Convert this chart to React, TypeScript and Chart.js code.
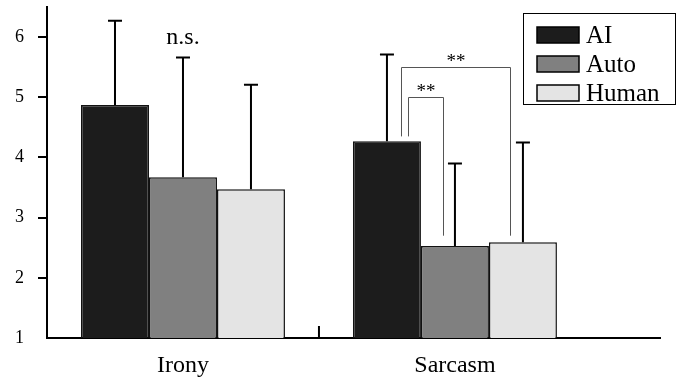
import React, { useEffect, useRef } from 'react';
import { Chart, registerables } from 'chart.js';

Chart.register(...registerables);

const categories = ['Irony', 'Sarcasm'];
const seriesNames = ['AI', 'Auto', 'Human'];
const aiMeans = [4.87, 4.27];
const autoMeans = [3.67, 2.53];
const humanMeans = [3.47, 2.59];
const aiSD = [1.4, 1.44];
const autoSD = [1.99, 1.37];
const humanSD = [1.74, 1.66];
const seriesColors = ['#1c1c1c', '#808080', '#e4e4e4'];
const yTickValues = [1, 2, 3, 4, 5, 6];

// significance annotations (x in category units, y in data units)
const nsLabel = 'n.s.';
const nsX = 0;
const nsY = 5.89;
const sigLabels = ['**', '**'];
const sigFrom = [0.827, 0.801];
const sigTo = [0.955, 1.204];
const sigTop = [5.0, 5.5];
const sigFromBottom = [4.35, 4.35];
const sigToBottom = [2.7, 2.7];

const FONT = '"Liberation Serif", "Times New Roman", serif';

const allMeans = [aiMeans, autoMeans, humanMeans];
const allSD = [aiSD, autoSD, humanSD];

const annotationPlugin = {
  id: 'annotations',
  afterDatasetsDraw(chart: any) {
    const ctx = chart.ctx;
    const xs = chart.scales.x;
    const ys = chart.scales.y;
    ctx.save();
    // error bars
    ctx.strokeStyle = '#000';
    ctx.lineWidth = 2;
    chart.data.datasets.forEach((ds: any, i: number) => {
      const meta = chart.getDatasetMeta(i);
      meta.data.forEach((bar: any, j: number) => {
        const top = ys.getPixelForValue(allMeans[i][j] + allSD[i][j]);
        ctx.beginPath();
        ctx.moveTo(bar.x, bar.y);
        ctx.lineTo(bar.x, top);
        ctx.moveTo(bar.x - 7, top);
        ctx.lineTo(bar.x + 7, top);
        ctx.stroke();
      });
    });
    // middle tick on x axis
    const mid = xs.getPixelForValue(0.5);
    ctx.beginPath();
    ctx.moveTo(mid, ys.bottom);
    ctx.lineTo(mid, ys.bottom - 12);
    ctx.stroke();
    // significance brackets
    ctx.strokeStyle = '#555';
    ctx.lineWidth = 1;
    ctx.fillStyle = '#000';
    ctx.textAlign = 'center';
    ctx.textBaseline = 'alphabetic';
    sigLabels.forEach((lab, k) => {
      const x1 = Math.round(xs.getPixelForValue(sigFrom[k])) + 0.5;
      const x2 = Math.round(xs.getPixelForValue(sigTo[k])) + 0.5;
      const yt = Math.round(ys.getPixelForValue(sigTop[k])) + 0.5;
      const yb1 = ys.getPixelForValue(sigFromBottom[k]);
      const yb2 = ys.getPixelForValue(sigToBottom[k]);
      ctx.beginPath();
      ctx.moveTo(x1, yb1);
      ctx.lineTo(x1, yt);
      ctx.lineTo(x2, yt);
      ctx.lineTo(x2, yb2);
      ctx.stroke();
      ctx.font = `19px ${FONT}`;
      ctx.fillText(lab, (x1 + x2) / 2, yt - 1);
    });
    ctx.font = `24px ${FONT}`;
    ctx.fillText(nsLabel, xs.getPixelForValue(nsX), ys.getPixelForValue(nsY));
    ctx.restore();
  },
  afterDraw(chart: any) {
    const ctx = chart.ctx;
    ctx.save();
    const bw = 152;
    const bh = 91;
    const bx = chart.width - bw - 1;
    const by = 13;
    ctx.strokeStyle = '#000';
    ctx.lineWidth = 1;
    ctx.strokeRect(bx + 0.5, by + 0.5, bw, bh);
    ctx.font = `25px ${FONT}`;
    ctx.textAlign = 'left';
    ctx.textBaseline = 'alphabetic';
    chart.data.datasets.forEach((ds: any, i: number) => {
      const cy = by + 22 + i * 29;
      ctx.fillStyle = ds.backgroundColor;
      ctx.fillRect(bx + 14, cy - 8, 42, 16);
      ctx.lineWidth = 1.5;
      ctx.strokeStyle = '#000';
      ctx.strokeRect(bx + 14, cy - 8, 42, 16);
      ctx.fillStyle = '#000';
      ctx.fillText(ds.label, bx + 63, cy + 8);
    });
    ctx.restore();
  },
};

export default function App() {
  const ref = useRef<HTMLCanvasElement>(null);
  useEffect(() => {
    document.body.style.margin = '0';
    if (!ref.current) return;
    const chart = new Chart(ref.current, {
      type: 'bar',
      data: {
        datasets: seriesNames.map((name, i) => ({
          label: name,
          data: categories.map((_, j) => ({ x: j, y: allMeans[i][j] })),
          backgroundColor: seriesColors[i],
          borderColor: '#111',
          borderWidth: 1.5,
          categoryPercentage: 0.75,
          barPercentage: 1,
        })),
      },
      options: {
        animation: false,
        responsive: true,
        maintainAspectRatio: false,
        events: [],
        font: { family: FONT },
        layout: { padding: { top: 7, right: 16, left: 0, bottom: 0 } },
        plugins: { legend: { display: false }, tooltip: { enabled: false } },
        scales: {
          x: {
            type: 'linear',
            min: -0.5,
            max: 1.754,
            offset: false,
            afterBuildTicks: (s: any) => {
              s.ticks = categories.map((_, i) => ({ value: i }));
            },
            afterFit: (s: any) => {
              s.height = 45;
              s.paddingLeft = 0;
              s.paddingRight = 0;
            },
            grid: { display: false, drawTicks: false, offset: false },
            border: { display: true, color: '#000', width: 2 },
            ticks: {
              callback: (v: any) => categories[v] ?? '',
              font: { size: 24, family: FONT },
              color: '#000',
              padding: 13,
              maxRotation: 0,
              autoSkip: false,
            },
          },
          y: {
            min: 1,
            max: 6.5,
            afterBuildTicks: (s: any) => {
              s.ticks = yTickValues.map((v) => ({ value: v }));
            },
            afterFit: (s: any) => {
              s.width = 47;
              s.paddingTop = 0;
              s.paddingBottom = 0;
            },
            grid: {
              drawOnChartArea: false,
              color: (c: any) => (c.tick && c.tick.value === 1 ? 'rgba(0,0,0,0)' : '#000'),
              lineWidth: 2,
              tickLength: 9,
            },
            border: { color: '#000', width: 2 },
            ticks: { font: { size: 18, family: FONT }, color: '#000', padding: 14 },
          },
        },
      },
      plugins: [annotationPlugin],
    } as any);
    return () => chart.destroy();
  }, []);
  return (
    <div style={{ position: 'relative', width: 676, height: 383 }}>
      <canvas ref={ref} />
    </div>
  );
}
